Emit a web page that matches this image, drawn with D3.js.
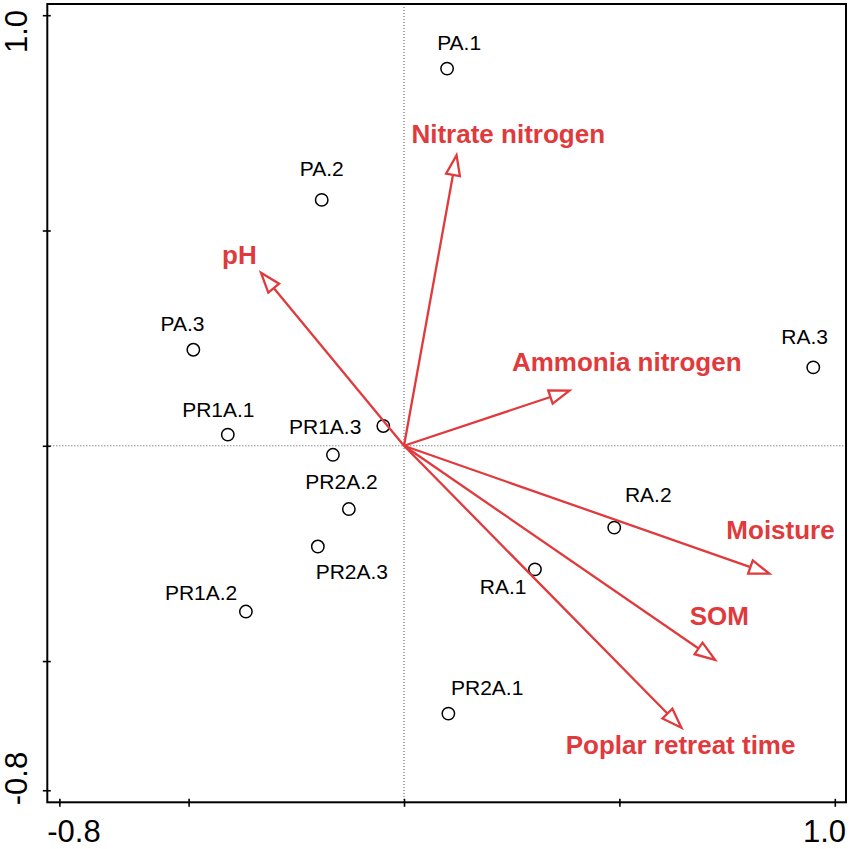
<!DOCTYPE html>
<html><head><meta charset="utf-8">
<script src="https://cdn.jsdelivr.net/npm/d3@7"></script>
<style>body{margin:0;background:#fff}</style>
</head><body><svg id="chart" width="851" height="849"></svg>
<script>
// ---- data ----
const siteNames = ["PA.1","PA.2","PA.3","PR1A.1","PR1A.2","PR1A.3","","PR2A.1","PR2A.2","PR2A.3","RA.1","RA.2","RA.3"];
const siteX = [0.100,-0.191,-0.489,-0.409,-0.367,-0.048,-0.165,0.103,-0.128,-0.200,0.304,0.488,0.950];
const siteY = [0.876,0.571,0.223,0.026,-0.385,0.046,-0.021,-0.622,-0.147,-0.234,-0.287,-0.190,0.182];
const siteLabelX = [0.128,-0.191,-0.514,-0.431,-0.471,-0.183,null,0.193,-0.145,-0.121,0.230,0.567,0.930];
const siteLabelY = [0.936,0.644,0.285,0.084,-0.341,0.046,null,-0.562,-0.083,-0.292,-0.327,-0.114,0.254];

const envNames = ["pH","Nitrate nitrogen","Ammonia nitrogen","Moisture","SOM","Poplar retreat time"];
const envX = [-0.332,0.122,0.384,0.848,0.722,0.644];
const envY = [0.402,0.675,0.128,-0.297,-0.497,-0.655];
const envLabelX = [-0.382,0.242,0.517,0.874,0.732,0.642];
const envLabelY = [0.443,0.726,0.196,-0.195,-0.394,-0.694];

const tickValues = [-0.8,-0.5,0,0.5,1.0];
const labeledTicks = [-0.8,1.0];
const axisDomain = [-0.828,1.026];

// ---- layout ----
const svg = d3.select("#chart");
const red = "#e03a3c";
const pLeft = 47.3, pRight = 846, pTop = 4, pBottom = 802.3;
const x = d3.scaleLinear().domain(axisDomain).range([pLeft, pRight]);
const y = d3.scaleLinear().domain(axisDomain).range([pBottom, pTop]);

svg.append("rect").attr("width",851).attr("height",849).attr("fill","#fff");

// zero reference lines
svg.append("line").attr("x1",x(0)).attr("x2",x(0)).attr("y1",pTop).attr("y2",pBottom)
  .attr("stroke","#555").attr("stroke-width",1).attr("stroke-dasharray","1,2");
svg.append("line").attr("y1",y(0)).attr("y2",y(0)).attr("x1",pLeft).attr("x2",pRight)
  .attr("stroke","#555").attr("stroke-width",1).attr("stroke-dasharray","1,2");

// axes (ticks crossing the frame)
const xAxis = d3.axisBottom(x).tickValues(tickValues).tickSize(8).tickFormat("");
const gx = svg.append("g").attr("transform",`translate(0,${pBottom-3.5})`).call(xAxis);
gx.select(".domain").remove();
gx.selectAll(".tick line").attr("stroke","#000").attr("stroke-width",1.6);
const yAxis = d3.axisLeft(y).tickValues(tickValues).tickSize(8).tickFormat("");
const gy = svg.append("g").attr("transform",`translate(${pLeft+3.5},0)`).call(yAxis);
gy.select(".domain").remove();
gy.selectAll(".tick line").attr("stroke","#000").attr("stroke-width",1.6);

// frame
svg.append("rect").attr("x",pLeft).attr("y",pTop).attr("width",pRight-pLeft).attr("height",pBottom-pTop)
  .attr("fill","none").attr("stroke","#000").attr("stroke-width",2);

// tick labels (only the ends, aligned to the frame edges)
const tickFont = "'Liberation Sans', Arial, sans-serif";
svg.selectAll("text.xtick").data(labeledTicks).enter().append("text")
  .attr("class","xtick")
  .attr("x",(d,i)=> i===0 ? pLeft : pRight)
  .attr("y",842)
  .attr("text-anchor",(d,i)=> i===0 ? "start" : "end")
  .attr("font-family",tickFont).attr("font-size",31)
  .text(d=>d.toFixed(1));
svg.selectAll("text.ytick").data(labeledTicks).enter().append("text")
  .attr("class","ytick")
  .attr("transform",(d,i)=>`translate(27,${i===0 ? pBottom+3 : pTop+6}) rotate(-90)`)
  .attr("text-anchor",(d,i)=> i===0 ? "start" : "end")
  .attr("font-family",tickFont).attr("font-size",31)
  .text(d=>d.toFixed(1));

// sites
const sites = siteNames.map((n,i)=>({name:n, x:siteX[i], y:siteY[i], lx:siteLabelX[i], ly:siteLabelY[i]}));
svg.selectAll("circle.site").data(sites).enter().append("circle")
  .attr("class","site")
  .attr("cx",d=>x(d.x)).attr("cy",d=>y(d.y)).attr("r",6.2)
  .attr("fill","none").attr("stroke","#000").attr("stroke-width",1.5);
svg.selectAll("text.site").data(sites.filter(d=>d.name)).enter().append("text")
  .attr("class","site")
  .attr("x",d=>x(d.lx)).attr("y",d=>y(d.ly)).attr("dy","0.36em")
  .attr("text-anchor","middle")
  .attr("font-family",tickFont).attr("font-size",21).attr("fill","#000")
  .text(d=>d.name);

// environmental arrows
const env = envNames.map((n,i)=>({name:n, x:envX[i], y:envY[i], lx:envLabelX[i], ly:envLabelY[i]}));
const ox = x(0), oy = y(0);
const headLen = 20, headHalf = 7;
env.forEach(d=>{
  const tx = x(d.x), ty = y(d.y);
  const L = Math.hypot(tx-ox, ty-oy);
  const ux = (tx-ox)/L, uy = (ty-oy)/L;
  const bx = tx - headLen*ux, by = ty - headLen*uy;
  svg.append("line").attr("x1",ox).attr("y1",oy).attr("x2",bx).attr("y2",by)
    .attr("stroke",red).attr("stroke-width",2.3);
  const pts = [[tx,ty],[bx - headHalf*uy, by + headHalf*ux],[bx + headHalf*uy, by - headHalf*ux]];
  svg.append("polygon").attr("points",pts.map(p=>p.join(",")).join(" "))
    .attr("fill","#fff").attr("stroke",red).attr("stroke-width",2.3).attr("stroke-linejoin","miter");
});
svg.selectAll("text.env").data(env).enter().append("text")
  .attr("class","env")
  .attr("x",d=>x(d.lx)).attr("y",d=>y(d.ly)).attr("dy","0.36em")
  .attr("text-anchor","middle")
  .attr("font-family",tickFont).attr("font-size",26).attr("font-weight","bold").attr("fill",red)
  .text(d=>d.name);
</script>
</body></html>
